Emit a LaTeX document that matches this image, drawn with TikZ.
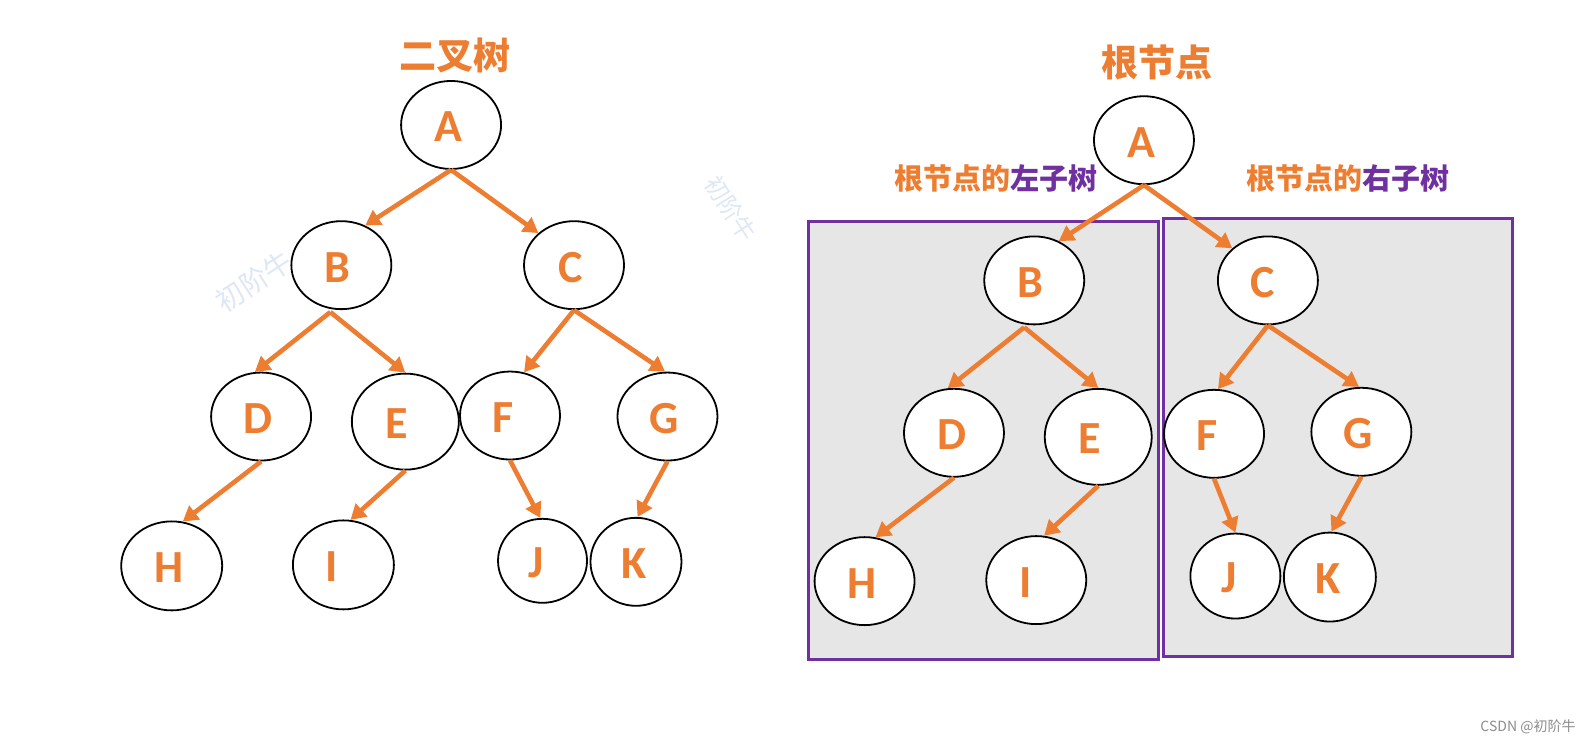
\documentclass[tikz,border=0pt]{standalone}
\usepackage{fontspec}
\setmainfont{Carlito}
\newfontfamily\cjk{Noto Sans CJK SC}
\usetikzlibrary{shapes.geometric,arrows.meta}
\definecolor{myorange}{HTML}{ED7D31}
\definecolor{mypurple}{HTML}{7030A0}
\definecolor{boxgray}{HTML}{E7E6E6}
\definecolor{wmblue}{HTML}{DFE7F4}
\tikzset{
  tn/.style={ellipse, draw=black, line width=1.8pt, fill=white,
    minimum width=100pt, minimum height=88pt, inner sep=0pt},
  lt/.style={font=\fontsize{46}{46}\selectfont\bfseries, text=myorange, inner sep=0pt, yshift=-2pt},
  ed/.style={draw=myorange, line width=4.6pt, -{Triangle[length=15pt,width=17pt]}},
  ttl/.style={font=\cjk\bfseries\fontsize{37}{37}\selectfont, text=myorange},
  sub/.style={font=\cjk\bfseries\fontsize{29}{29}\selectfont, text=myorange},
  subbox/.style={draw=mypurple, fill=boxgray, line width=3pt},
  wm/.style={font=\cjk\fontsize{28}{28}\selectfont, text=wmblue}
}
\begin{document}
\begin{tikzpicture}[x=1.016pt,y=-1.016pt]
\useasboundingbox (0,0) rectangle (1568,731);
% watermarks
\node[wm, rotate=33] (wm1) at (250,277) {初阶牛};
\node[wm, rotate=-57, font=\cjk\fontsize{24}{24}\selectfont] (wm2) at (719,205) {初阶牛};
% titles
\node[ttl] (t1) at (448,55) {二叉树};
\node[ttl] (t2) at (1139,62) {根节点};
\node[sub] (s1) at (980,176) {根节点的\textcolor{mypurple}{左子树}};
\node[sub] (s2) at (1327,176) {根节点的\textcolor{mypurple}{右子树}};
% subtree boxes
\draw[subbox] (796,218) rectangle (1140,649);
\draw[subbox] (1145,215) rectangle (1489,646);
% left tree
\node[tn, label={[lt,xshift=-3pt]center:A}] (A) at (444,123) {};
\node[tn, label={[lt,xshift=-4pt]center:B}] (B) at (336,261) {};
\node[tn, label={[lt,xshift=-3pt]center:C}] (C) at (565,261) {};
\node[tn, label={[lt,xshift=-3pt]center:D}] (D) at (257,410) {};
\node[tn, minimum width=107pt, minimum height=96pt, label={[lt,xshift=-9pt]center:E}] (E) at (399,415) {};
\node[tn, label={[lt,xshift=-7pt]center:F}] (F) at (502,409) {};
\node[tn, label={[lt,xshift=-3pt]center:G}] (G) at (657,410) {};
\node[tn, minimum width=101pt, minimum height=89pt, label={[lt,xshift=-3pt]center:H}] (H) at (169,557) {};
\node[tn, minimum width=101pt, minimum height=89pt, label={[lt,xshift=-12pt]center:I}] (I) at (338,556) {};
\node[tn, minimum width=89pt, minimum height=84pt, label={[lt,xshift=-6pt]center:J}] (J) at (534,552) {};
\node[tn, minimum width=91pt, minimum height=88pt, label={[lt,xshift=-2pt]center:K}] (K) at (626,553) {};
\draw[ed] (A.south) -- (B.59);
\draw[ed] (A.south) -- (C.138);
\draw[ed] ([xshift=-11pt,yshift=-2pt]B.south) -- (D.98);
\draw[ed] ([xshift=-11pt,yshift=-2pt]B.south) -- (E.90);
\draw[ed] (C.south) -- (F.72);
\draw[ed] (C.south) -- (G.93);
\draw[ed] (D.south) -- (H.76);
\draw[ed] (E.south) -- (I.81);
\draw[ed] (F.south) -- (J.93);
\draw[ed] (G.south) -- (K.88);
% right tree
\node[tn, label={[lt,xshift=-3pt]center:A}] (rA) at (1126,138) {};
\node[tn, label={[lt,xshift=-4pt]center:B}] (rB) at (1018,276) {};
\node[tn, label={[lt,xshift=-5pt]center:C}] (rC) at (1248,276) {};
\node[tn, label={[lt,xshift=-2pt]center:D}] (rD) at (939,426) {};
\node[tn, minimum width=107pt, minimum height=96pt, label={[lt,xshift=-9pt]center:E}] (rE) at (1081,430) {};
\node[tn, label={[lt,xshift=-7pt]center:F}] (rF) at (1195,427) {};
\node[tn, label={[lt,xshift=-3pt]center:G}] (rG) at (1340,425) {};
\node[tn, label={[lt,xshift=-3pt]center:H}] (rH) at (851,572) {};
\node[tn, label={[lt,xshift=-11pt]center:I}] (rI) at (1020,571) {};
\node[tn, minimum width=90pt, minimum height=85pt, label={[lt,xshift=-6pt]center:J}] (rJ) at (1216,567) {};
\node[tn, minimum width=92pt, minimum height=89pt, label={[lt,xshift=-2pt]center:K}] (rK) at (1309,568) {};
\draw[ed] (rA.south) -- (rB.58);
\draw[ed] (rA.south) -- (rC.138);
\draw[ed] ([xshift=-10pt,yshift=-2pt]rB.south) -- (rD.98);
\draw[ed] ([xshift=-10pt,yshift=-2pt]rB.south) -- (rE.90);
\draw[ed] (rC.south) -- (rF.85);
\draw[ed] (rC.south) -- (rG.93);
\draw[ed] (rD.south) -- (rH.76);
\draw[ed] (rE.south) -- (rI.80);
\draw[ed] (rF.south) -- (rJ.90);
\draw[ed] (rG.south) -- (rK.88);
% credit
\node[font=\cjk\fontsize{14}{14}\selectfont, text=black!45] (cr) at (1504,715) {CSDN @初阶牛};
\end{tikzpicture}
\end{document}
